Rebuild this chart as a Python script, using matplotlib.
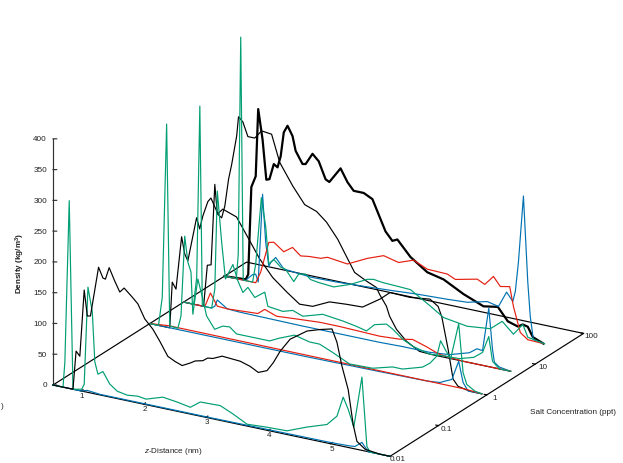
import numpy as np
import matplotlib
matplotlib.use('Agg')
import matplotlib.pyplot as plt
from mpl_toolkits.mplot3d import proj3d

plt.rcParams['font.family'] = 'Liberation Sans'
plt.rcParams['mathtext.fontset'] = 'custom'
plt.rcParams['mathtext.rm'] = 'Liberation Sans'
plt.rcParams['mathtext.it'] = 'Liberation Sans:italic'
plt.rcParams['mathtext.bf'] = 'Liberation Sans:bold'

GREEN = '#009e73'
BLUE = '#0072b2'
RED = '#e51e10'
BLACK = '#000000'
TXT = '#222222'
FS = 5.9
LW = 0.85

z_min = 0.55
z_max = 5.95
z_ticks = [1, 2, 3, 4, 5]
salt_ticks = [0.01, 0.1, 1, 10, 100]
salt_labels = ['0.01', '0.1', '1', '10', '100']
density_ticks = [0, 50, 100, 150, 200, 250, 300, 350, 400]

# salt 0.01 ppt
c1 = 0.01
c1_black_z = [0.55, 0.87, 0.92, 0.98, 1.05, 1.10, 1.15, 1.28, 1.35, 1.39, 1.45, 1.54, 1.62, 1.69, 1.82, 1.91, 2.02, 2.15, 2.26, 2.39, 2.51, 2.62, 2.75, 2.83, 2.95, 3.03, 3.11, 3.26, 3.55, 3.71, 3.84, 3.98, 4.08, 4.19, 4.35, 4.62, 4.83, 5.02, 5.10, 5.18, 5.28, 5.36, 5.42, 5.55, 5.79, 5.95]
c1_black_d = [0, 0, 63, 56, 165, 124, 125, 207, 191, 190, 210, 190, 174, 182, 170, 161, 139, 125, 108, 86, 80, 76, 83, 88, 91, 97, 98, 105, 103, 98, 91, 97, 112, 133, 156, 175, 182, 187, 167, 130, 94, 39, 13, 3, 0, 0]
c1_blue_z = [0.55, 1.00, 1.10, 1.30, 3.00, 5.00, 5.30, 5.39, 5.50, 5.60, 5.95]
c1_blue_d = [0, 0, 3, 1, 1, 2, 3, 4, 13, 0, 0]
c1_green_z = [0.55, 0.71, 0.74, 0.81, 0.87, 1.01, 1.05, 1.11, 1.18, 1.22, 1.27, 1.35, 1.46, 1.58, 1.74, 1.91, 2.04, 2.31, 2.54, 2.75, 2.91, 3.23, 3.43, 3.66, 3.98, 4.30, 4.62, 4.94, 5.10, 5.20, 5.28, 5.37, 5.50, 5.58, 5.63, 5.95]
c1_green_d = [0, 0, 41, 305, 0, 3, 12, 171, 132, 52, 33, 39, 21, 12, 9, 11, 9, 18, 15, 11, 23, 24, 15, 3, 5, 6, 19, 30, 47, 80, 62, 35, 119, 8, 0, 0]

# salt 1 ppt
c2 = 1
c2_black_z = [0.55, 0.87, 0.91, 0.97, 1.06, 1.11, 1.16, 1.30, 1.35, 1.40, 1.48, 1.53, 1.64, 1.72, 1.94, 2.12, 2.31, 2.52, 2.75, 2.95, 3.16, 3.43, 3.71, 3.96, 4.24, 4.40, 4.72, 5.04, 5.17, 5.23, 5.33, 5.41, 5.49, 5.68, 5.87]
c2_black_d = [0, 0, 75, 65, 152, 125, 115, 188, 171, 193, 218, 225, 202, 211, 203, 174, 143, 117, 98, 83, 84, 97, 99, 100, 119, 133, 132, 136, 127, 111, 61, 14, 4, 0, 0]
c2_blue_z = [0.55, 1.00, 2.00, 3.00, 4.24, 5.00, 5.20, 5.28, 5.39, 5.50, 5.57, 5.65, 5.87]
c2_blue_d = [0, 0, 0, 0, 1, 2, 4, 8, 13, 45, 12, 0, 0]
c2_red_z = [0.55, 0.85, 5.60, 5.87]
c2_red_d = [0, 3, 2, 0]
c2_green_z = [0.55, 0.69, 0.75, 0.82, 0.87, 1.00, 1.05, 1.11, 1.16, 1.21, 1.24, 1.32, 1.40, 1.46, 1.59, 1.72, 1.83, 1.94, 2.20, 2.47, 2.63, 2.87, 3.11, 3.27, 3.48, 3.75, 4.12, 4.44, 4.60, 4.76, 4.92, 5.04, 5.15, 5.21, 5.28, 5.37, 5.50, 5.57, 5.63, 5.76, 5.87]
c2_green_d = [0, 0, 47, 330, 3, 2, 23, 154, 113, 98, 30, 89, 58, 32, 13, 21, 22, 13, 13, 13, 21, 31, 25, 25, 16, 3, 4, 13, 13, 18, 23, 32, 46, 72, 60, 46, 106, 28, 10, 2, 0]

# salt 5 ppt
c3 = 5
c3_black_z = [0.55, 0.87, 0.93, 0.99, 1.05, 1.09, 1.16, 1.21, 1.27, 1.32, 1.40, 1.43, 1.50, 1.58, 1.69, 1.80, 1.96, 2.09, 2.30, 2.49, 2.68, 2.84, 3.02, 3.16, 3.29, 3.48, 3.64, 3.69, 3.80, 3.85, 3.96, 4.12, 4.33, 4.54, 5.79]
c3_black_d = [0, 0, 68, 70, 202, 155, 150, 170, 215, 240, 288, 320, 313, 291, 291, 305, 303, 260, 226, 200, 193, 179, 155, 130, 107, 97, 90, 80, 63, 48, 29, 13, 1, 0, 0]
c3_blue_z = [0.55, 1.00, 1.05, 1.09, 1.25, 1.45, 2.41, 3.69, 4.06, 4.49, 4.81, 5.13, 5.25, 5.34, 5.44, 5.50, 5.53, 5.61, 5.79]
c3_blue_d = [0, 0, 4, 15, 4, 3, 2, 2, 3, 3, 6, 16, 25, 24, 95, 29, 9, 3, 0]
c3_red_z = [0.55, 0.89, 0.98, 1.09, 1.25, 1.74, 1.85, 2.04, 2.30, 2.73, 3.05, 3.37, 3.69, 4.01, 4.22, 4.44, 4.65, 5.02, 5.79]
c3_red_d = [0, 0, 24, 5, 4, 7, 16, 9, 11, 14, 14, 13, 12, 14, 18, 11, 3, 0, 0]
c3_green_z = [0.55, 0.71, 0.76, 0.81, 0.85, 1.00, 1.05, 1.09, 1.16, 1.22, 1.34, 1.42, 1.50, 1.58, 1.69, 1.85, 1.90, 2.14, 2.30, 2.46, 2.78, 3.10, 3.32, 3.48, 3.61, 3.80, 3.90, 4.06, 4.22, 4.49, 4.73, 4.97, 5.20, 5.34, 5.44, 5.50, 5.61, 5.79]
c3_green_d = [0, 0, 45, 324, 0, 0, 32, 192, 110, 52, 78, 53, 36, 46, 32, 44, 22, 19, 24, 18, 28, 24, 20, 16, 29, 34, 28, 15, 7, 0, 2, 3, 10, 21, 49, 10, 0, 0]

# salt 35 ppt
c4 = 35
c4_black_z = [0.55, 0.89, 0.93, 0.98, 1.05, 1.09, 1.16, 1.22, 1.27, 1.34, 1.40, 1.45, 1.50, 1.56, 1.64, 1.69, 1.80, 1.85, 1.96, 2.06, 2.17, 2.23, 2.41, 2.52, 2.62, 2.78, 2.92, 3.13, 3.24, 3.32, 3.53, 3.80, 4.06, 4.38, 4.70, 4.93, 5.09, 5.25, 5.33, 5.41, 5.49, 5.66]
c4_black_d = [0, 2, 11, 154, 173, 283, 235, 171, 173, 199, 195, 214, 254, 266, 251, 228, 209, 210, 229, 219, 192, 189, 215, 195, 183, 183, 176, 128, 115, 119, 95, 76, 70, 53, 40, 44, 24, 19, 24, 22, 7, 0]
c4_blue_z = [0.55, 0.89, 0.93, 1.00, 1.05, 1.09, 1.16, 1.21, 1.26, 1.29, 1.37, 1.50, 1.93, 2.36, 2.89, 3.21, 3.64, 4.12, 4.44, 4.76, 4.94, 5.07, 5.17, 5.21, 5.26, 5.34, 5.41, 5.45, 5.50, 5.66]
c4_blue_d = [0, 0, 5, 12, 14, 2, 146, 69, 31, 38, 48, 32, 28, 29, 32, 34, 37, 39, 41, 49, 45, 71, 58, 75, 124, 233, 94, 39, 3, 0]
c4_red_z = [0.55, 1.05, 1.13, 1.26, 1.34, 1.50, 1.64, 1.77, 1.90, 2.09, 2.20, 2.52, 2.84, 3.10, 3.34, 3.58, 3.80, 4.12, 4.25, 4.60, 4.72, 4.86, 4.97, 5.12, 5.18, 5.29, 5.41, 5.66]
c4_red_d = [0, 0, 19, 70, 72, 60, 70, 59, 61, 62, 66, 62, 78, 88, 82, 91, 81, 80, 74, 82, 76, 92, 78, 81, 50, 10, 1, 0]
c4_green_z = [0.55, 0.74, 0.77, 0.81, 0.85, 1.00, 1.05, 1.14, 1.21, 1.26, 1.34, 1.45, 1.53, 1.66, 1.74, 1.85, 1.93, 2.06, 2.30, 2.57, 2.84, 2.94, 3.08, 3.32, 3.53, 3.85, 4.06, 4.44, 4.81, 5.00, 5.18, 5.33, 5.41, 5.68]
c4_green_d = [0, 0, 40, 394, 0, 0, 30, 140, 95, 35, 44, 34, 32, 15, 29, 31, 24, 22, 20, 30, 44, 46, 44, 43, 42, 22, 8, 2, 6, 22, 5, 24, 5, 0]

W, H = 623, 464
BOX = (389, 387, 264.5)

fig = plt.figure(figsize=(W / 100, H / 100), dpi=100)
ax = fig.add_axes([0, 0, 1, 1], projection='3d', proj_type='ortho', computed_zorder=False)
ax.view_init(elev=21.5, azim=-60)
ax.set_xlim(z_min, z_max, view_margin=0)
ax.set_ylim(-2, 2, view_margin=0)
ax.set_zlim(0, 400, view_margin=0)
ax.set_axis_off()
ax.patch.set_visible(False)


def to_pixels(x, y, d):
    xs, ys, _ = proj3d.proj_transform(x, y, d, ax.get_proj())
    px = ax.transData.transform((xs, ys))
    return px[0], H - px[1]


def label(px, py, s, **kw):
    fig.text(px / W, 1 - py / H, s, va='center', fontsize=FS, color=TXT, **kw)


# scale and shift the box so the front axis lands on (53,386)-(390,457)
ax.set_box_aspect(BOX)
fig.canvas.draw()
x0, _ = to_pixels(z_min, -2, 0)
x1, _ = to_pixels(z_max, -2, 0)
ax.set_box_aspect(BOX, zoom=337 / (x1 - x0))
fig.canvas.draw()
x0, y0 = to_pixels(z_min, -2, 0)
ax.set_position([(53 - x0) / W, (y0 - 386) / H, 1, 1])
fig.canvas.draw()


def line3(xs, ys, ds, color=BLACK, lw=LW, zo=1):
    ax.plot(xs, ys, ds, color=color, lw=lw, zorder=zo, clip_on=False)


# box floor and density axis
line3([z_min, z_max, z_max, z_min, z_min], [-2, -2, 2, 2, -2], [0, 0, 0, 0, 0])
line3([z_min, z_min], [-2, -2], [0, 400], color='#333333')

for t in density_ticks:
    line3([z_min, z_min + 0.044], [-2, -2 + 0.019], [t, t], color='#333333')
    px, py = to_pixels(z_min, -2, t)
    label(px - 6, py, str(t), ha='right')
for t in z_ticks:
    line3([t, t], [-2, -1.96], [0, 0])
    px, py = to_pixels(t, -2, 0)
    label(px + 1, py + 4.3, str(t), ha='center')
for t, lab in zip(salt_ticks, salt_labels):
    v = np.log10(t)
    line3([z_max, z_max - 0.04], [v, v], [0, 0])
    px, py = to_pixels(z_max, v, 0)
    label(px + 7.5, py + 2.5, lab, ha='center')

series = [
    (c2, c2_black_z, c2_black_d, c2_blue_z, c2_blue_d, c2_red_z, c2_red_d, c2_green_z, c2_green_d, LW),
    (c3, c3_black_z, c3_black_d, c3_blue_z, c3_blue_d, c3_red_z, c3_red_d, c3_green_z, c3_green_d, LW),
    (c4, c4_black_z, c4_black_d, c4_blue_z, c4_blue_d, c4_red_z, c4_red_d, c4_green_z, c4_green_d, 1.6),
]
for c, bz, bd, lz, ld, rz, rd, gz, gd, bw in series:
    y = np.log10(c)
    line3(bz, [y] * len(bz), bd, color=BLACK, lw=bw, zo=2)
    line3(lz, [y] * len(lz), ld, color=BLUE, zo=3)
    line3(rz, [y] * len(rz), rd, color=RED, zo=4)
    line3(gz, [y] * len(gz), gd, color=GREEN, zo=5)

# front row has black on top of its baseline, and no red shows there
y = np.log10(c1)
line3(c1_blue_z, [y] * len(c1_blue_z), c1_blue_d, color=BLUE, zo=3)
line3(c1_green_z, [y] * len(c1_green_z), c1_green_d, color=GREEN, zo=5)
line3(c1_black_z, [y] * len(c1_black_z), c1_black_d, color=BLACK, zo=6)

label(173, 452, r'$\mathit{z}$-Distance (nm)', ha='center')
label(573, 413, 'Salt Concentration (ppt)', ha='center')
label(20, 263, r'Density (kg/m$^{\mathbf{3}}$)', rotation=90, ha='center', fontweight='bold')
label(1, 407, ')', ha='left')

fig.savefig('out.png', dpi=100)
